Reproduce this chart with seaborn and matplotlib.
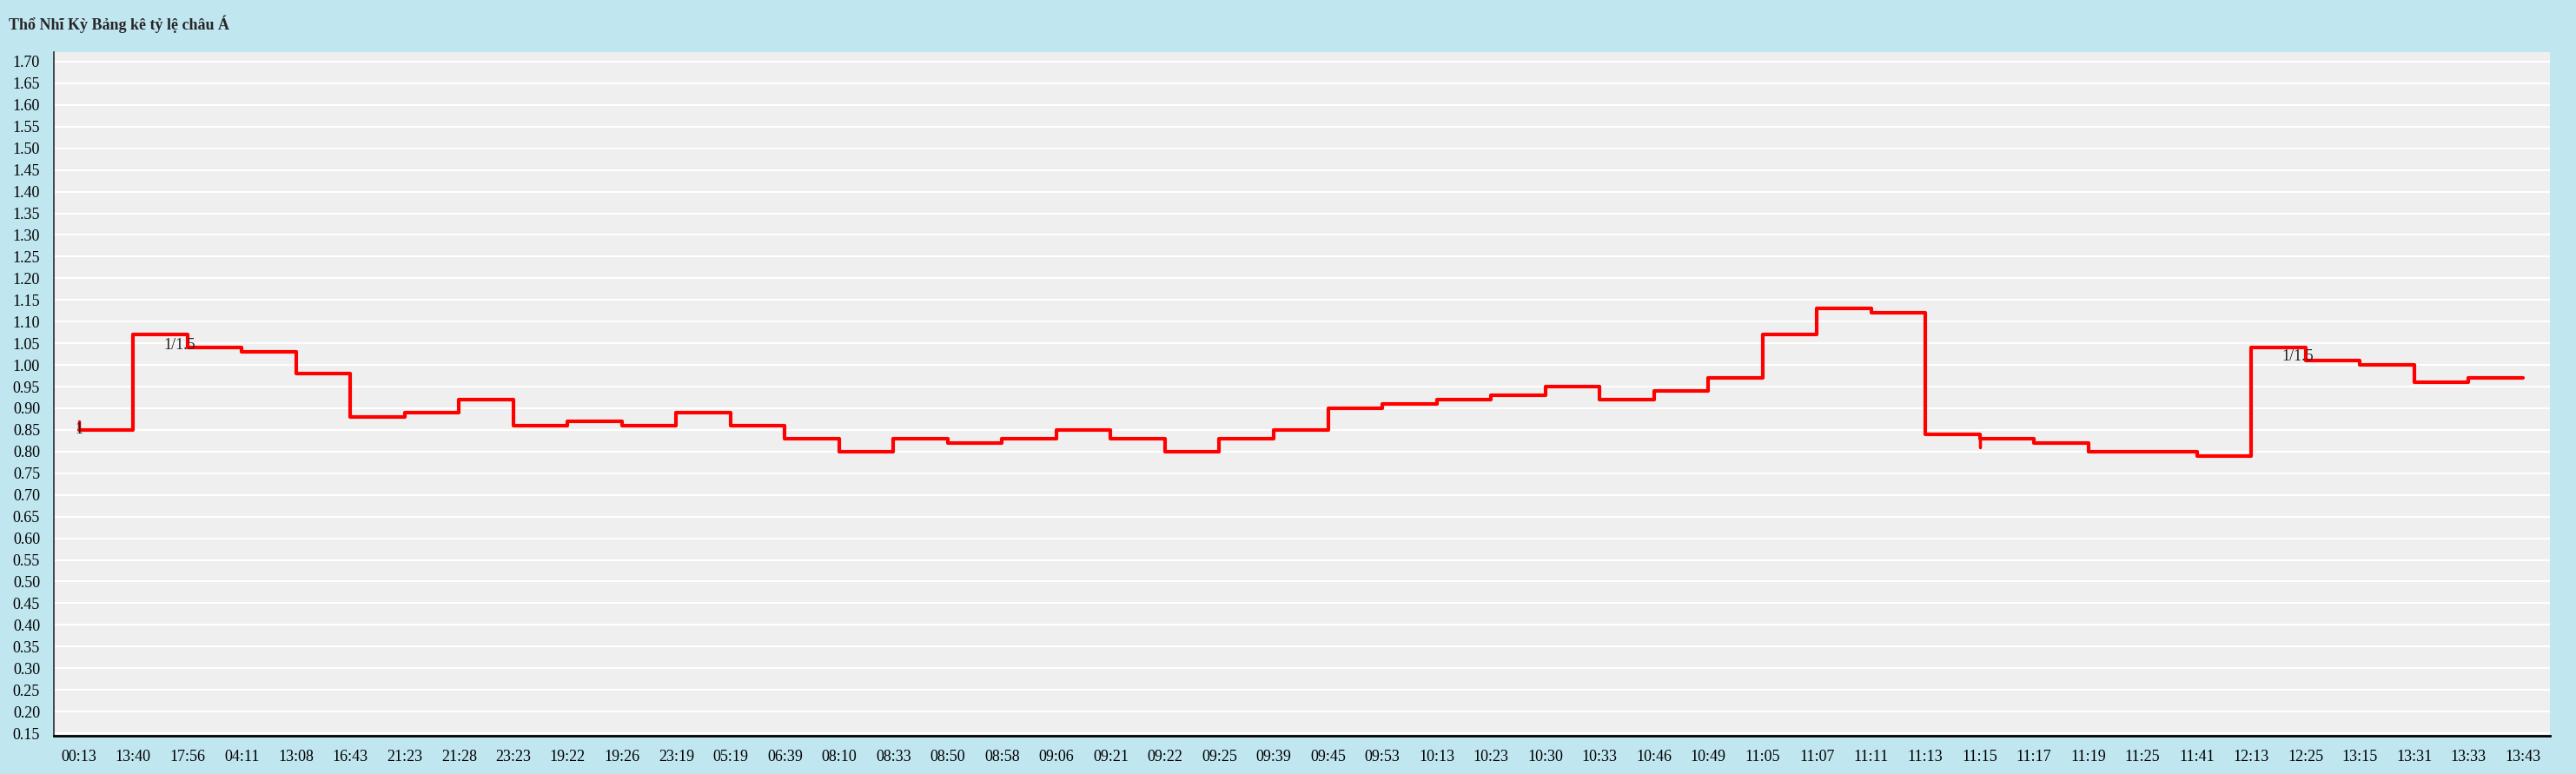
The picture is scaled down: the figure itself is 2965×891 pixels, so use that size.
import matplotlib
matplotlib.use("Agg")
import matplotlib.pyplot as plt
import numpy as np
import pandas as pd
import seaborn as sns

times = [
    "00:13", "13:40", "17:56", "04:11", "13:08", "16:43", "21:23", "21:28", "23:23", "19:22",
    "19:26", "23:19", "05:19", "06:39", "08:10", "08:33", "08:50", "08:58", "09:06", "09:21",
    "09:22", "09:25", "09:39", "09:45", "09:53", "10:13", "10:23", "10:30", "10:33", "10:46",
    "10:49", "11:05", "11:07", "11:11", "11:13", "11:15", "11:17", "11:19", "11:25", "11:41",
    "12:13", "12:25", "13:15", "13:31", "13:33", "13:43",
]
ratios = [
    0.85, 1.07, 1.04, 1.03, 0.98, 0.88, 0.89, 0.92, 0.86, 0.87,
    0.86, 0.89, 0.86, 0.83, 0.80, 0.83, 0.82, 0.83, 0.85, 0.83,
    0.80, 0.83, 0.85, 0.90, 0.91, 0.92, 0.93, 0.95, 0.92, 0.94,
    0.97, 1.07, 1.13, 1.12, 0.84, 0.83, 0.82, 0.80, 0.80, 0.79,
    1.04, 1.01, 1.00, 0.96, 0.97, 0.97,
]
# handicap labels shown on the line: (index, text, value)
labels = [(0, "1", 0.85), (2, "1/1.5", 1.045), (41, "1/1.5", 1.02)]

df = pd.DataFrame({"pos": np.arange(len(times)), "ratio": ratios})

sns.set_theme(style="white")
plt.rcParams["font.family"] = ["Liberation Serif", "DejaVu Serif"]

fig = plt.figure(figsize=(29.65, 8.91), dpi=100, facecolor="#c0e6f0")
ax = fig.add_axes([62 / 2965, 1 - 847 / 891, (2935 - 62) / 2965, (847 - 60) / 891])
ax.set_facecolor("#efefef")

yt = np.round(np.arange(0.15, 1.701, 0.05), 2)
ax.set_yticks(yt)
ax.set_yticklabels([f"{v:.2f}" for v in yt])
ax.set_ylim(0.144, 1.722)
ax.set_xlim(-0.46, 45.5)
ax.set_xticks(df["pos"])
ax.set_xticklabels(times)
for y in yt:
    ax.axhline(y, color="white", lw=1.5, zorder=0)

sns.lineplot(data=df, x="pos", y="ratio", drawstyle="steps-post", color="#ff0000", lw=3, ax=ax)
# small change marks
ax.plot([0, 0], [0.85, 0.87], color="#ff0000", lw=2.5)
ax.plot([35, 35], [0.83, 0.81], color="#ff0000", lw=2.5)
for i, txt, v in labels:
    ax.text(i - 0.15 if i else i, v, txt, fontsize=13, ha="center", va="center", color="#222222")

for s in ["top", "right"]:
    ax.spines[s].set_visible(False)
ax.spines["left"].set_color("#333333")
ax.spines["bottom"].set_color("#000000")
ax.spines["bottom"].set_linewidth(2)
ax.tick_params(axis="both", which="major", direction="out", length=8, width=1.5, colors="#000000", labelsize=13)
ax.set_xlabel("")
ax.set_ylabel("")

fig.text(10 / 2965, 1 - 28 / 891, "Thổ Nhĩ Kỳ Bảng kê tỷ lệ châu Á", fontsize=13, fontweight="bold", va="center")

fig.savefig("out.png", dpi=100, facecolor=fig.get_facecolor())
